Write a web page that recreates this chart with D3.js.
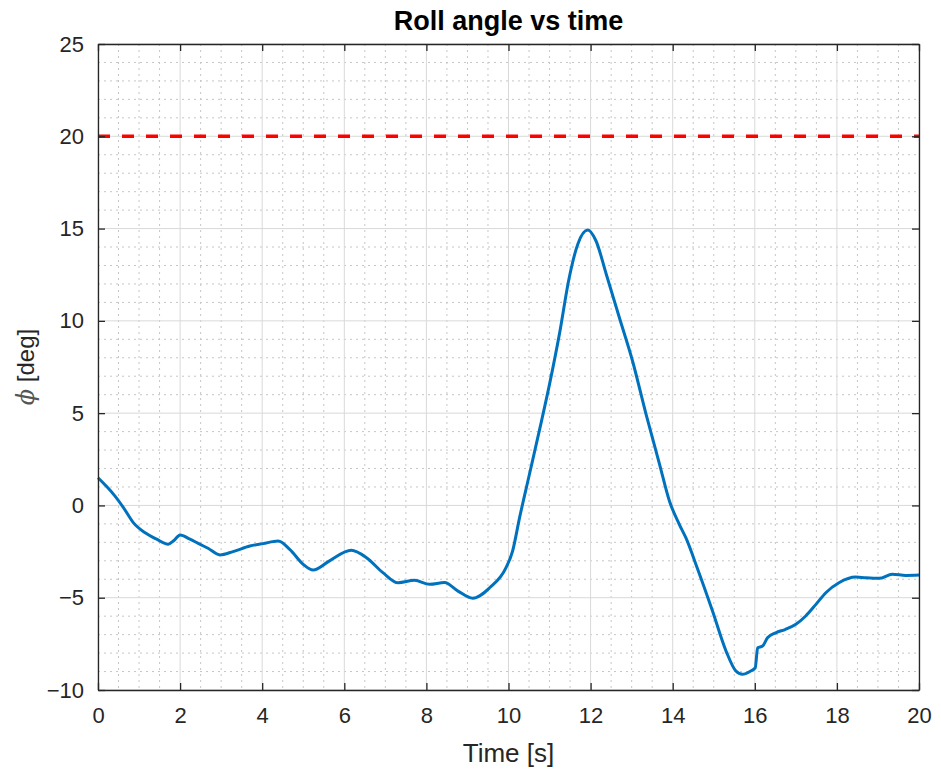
<!DOCTYPE html>
<html>
<head>
<meta charset="utf-8">
<script src="https://cdn.jsdelivr.net/npm/d3@7"></script>
<style>
  body { margin: 0; background: #fff; }
  svg { display: block; font-family: "Liberation Sans", Arial, sans-serif; }
</style>
</head>
<body>
<div id="chart"></div>
<script>
// values
let timeS = [0, 0.2, 0.41, 0.62, 0.86, 1.14, 1.43, 1.71, 1.85, 2.0, 2.24, 2.48, 2.68, 2.97, 3.29, 3.7, 4.02, 4.39,
  4.67, 5.0, 5.24, 5.64, 6.17, 6.54, 6.94, 7.31, 7.71, 8.08, 8.44, 8.77, 9.13, 9.54, 9.94, 10.1, 10.27, 10.51,
  10.75, 11.0, 11.24, 11.48, 11.69, 11.93, 12.13, 12.38, 12.7, 13.02, 13.35, 13.68, 13.92, 14.16, 14.32, 14.6,
  14.97, 15.3, 15.54, 15.7, 15.9, 16.01, 16.07, 16.19, 16.31, 16.51, 16.75, 17.0, 17.24, 17.49, 17.73, 18.05,
  18.46, 18.7, 19.03, 19.35, 19.68, 20];
let rollDeg = [1.5, 1.05, 0.52, -0.12, -0.93, -1.47, -1.83, -2.1, -1.9, -1.6, -1.83, -2.1, -2.32, -2.68, -2.5, -2.2,
  -2.07, -1.93, -2.38, -3.19, -3.5, -3.0, -2.43, -2.83, -3.64, -4.19, -4.06, -4.27, -4.18, -4.64, -5.03, -4.46,
  -3.37, -2.47, -0.66, 1.69, 4.04, 6.57, 9.28, 12.35, 14.17, 14.92, 14.34, 12.54, 10.18, 7.84, 4.95, 2.23, 0.24,
  -1.02, -1.75, -3.4, -5.72, -7.89, -8.97, -9.15, -8.97, -8.8, -7.71, -7.62, -7.17, -6.9, -6.71, -6.44, -5.99,
  -5.36, -4.73, -4.19, -3.88, -3.92, -3.95, -3.73, -3.79, -3.77];
let limitDeg = 20;
let xTicks = [0, 2, 4, 6, 8, 10, 12, 14, 16, 18, 20];
let yTicks = [-10, -5, 0, 5, 10, 15, 20, 25];

let data = timeS.map((t, i) => ({ t: t, phi: rollDeg[i] }));

let margin = { top: 44, left: 98, right: 22, bottom: 84 },
  width = 941 - margin.left - margin.right,
  height = 774 - margin.top - margin.bottom;

let svg = d3.select("#chart")
  .append("svg")
  .attr("width", 941)
  .attr("height", 774);

let g = svg.append("g")
  .attr("transform", "translate(" + margin.left + "," + margin.top + ")");

let xScale = d3.scaleLinear().domain([0, 20]).range([0, width]);
let yScale = d3.scaleLinear().domain([-10, 25]).range([height, 0]);

// minor grid (dotted)
let xMinor = d3.range(0, 20.01, 0.5).filter(v => v % 2 !== 0);
let yMinor = d3.range(-10, 25.01, 1).filter(v => v % 5 !== 0);

g.append("g").selectAll("line").data(xMinor).enter().append("line")
  .attr("x1", d => xScale(d)).attr("x2", d => xScale(d))
  .attr("y1", 0).attr("y2", height)
  .attr("stroke", "#c6c6c6").attr("stroke-width", 1).attr("stroke-dasharray", "2,4");

g.append("g").selectAll("line").data(yMinor).enter().append("line")
  .attr("x1", 0).attr("x2", width)
  .attr("y1", d => yScale(d)).attr("y2", d => yScale(d))
  .attr("stroke", "#c6c6c6").attr("stroke-width", 1).attr("stroke-dasharray", "2,4");

// major grid
g.append("g").selectAll("line").data(xTicks).enter().append("line")
  .attr("x1", d => xScale(d)).attr("x2", d => xScale(d))
  .attr("y1", 0).attr("y2", height)
  .attr("stroke", "#d9d9d9").attr("stroke-width", 1);

g.append("g").selectAll("line").data(yTicks).enter().append("line")
  .attr("x1", 0).attr("x2", width)
  .attr("y1", d => yScale(d)).attr("y2", d => yScale(d))
  .attr("stroke", "#d9d9d9").attr("stroke-width", 1);

// limit line
g.append("line")
  .attr("x1", 0).attr("x2", width)
  .attr("y1", yScale(limitDeg)).attr("y2", yScale(limitDeg))
  .attr("stroke", "#ff0000").attr("stroke-width", 3.5)
  .attr("stroke-dasharray", "12,12");

// roll angle
let line = d3.line()
  .x(d => xScale(d.t))
  .y(d => yScale(d.phi))
  .curve(d3.curveMonotoneX);

g.append("path")
  .datum(data)
  .attr("d", line)
  .attr("fill", "none")
  .attr("stroke", "#0072bd")
  .attr("stroke-width", 3);

// axes
function styleAxis(ax) {
  ax.select(".domain").attr("stroke", "#262626").attr("stroke-width", 1.3);
  ax.selectAll(".tick line").attr("stroke", "#262626").attr("stroke-width", 1.3);
  ax.selectAll(".tick text").attr("fill", "#262626").style("font-size", "22px");
}

let xAxis = g.append("g")
  .attr("transform", "translate(0," + height + ")")
  .call(d3.axisBottom(xScale).tickValues(xTicks).tickSizeInner(-7).tickSizeOuter(0).tickPadding(17));
styleAxis(xAxis);

let xTop = g.append("g")
  .call(d3.axisTop(xScale).tickValues(xTicks).tickSizeInner(-7).tickSizeOuter(0).tickFormat(""));
styleAxis(xTop);

let yAxis = g.append("g")
  .call(d3.axisLeft(yScale).tickValues(yTicks).tickSizeInner(-7).tickSizeOuter(0).tickPadding(14));
styleAxis(yAxis);

let yRight = g.append("g")
  .attr("transform", "translate(" + width + ",0)")
  .call(d3.axisRight(yScale).tickValues(yTicks).tickSizeInner(-7).tickSizeOuter(0).tickFormat(""));
styleAxis(yRight);

// labels
svg.append("text")
  .attr("x", margin.left + width / 2)
  .attr("y", 30)
  .attr("text-anchor", "middle")
  .attr("font-weight", "bold")
  .attr("font-size", "27px")
  .attr("fill", "#000")
  .text("Roll angle vs time");

svg.append("text")
  .attr("x", margin.left + width / 2)
  .attr("y", 762)
  .attr("text-anchor", "middle")
  .attr("font-size", "26px")
  .attr("fill", "#262626")
  .text("Time [s]");

let yLabel = svg.append("text")
  .attr("transform", "translate(34," + (margin.top + height / 2) + ") rotate(-90)")
  .attr("text-anchor", "middle")
  .attr("font-size", "24px")
  .attr("fill", "#262626");
yLabel.append("tspan").attr("font-style", "italic").attr("font-family", "'DejaVu Serif', serif").attr("fill", "#555").text("ϕ");
yLabel.append("tspan").text(" [deg]");
</script>
</body>
</html>
